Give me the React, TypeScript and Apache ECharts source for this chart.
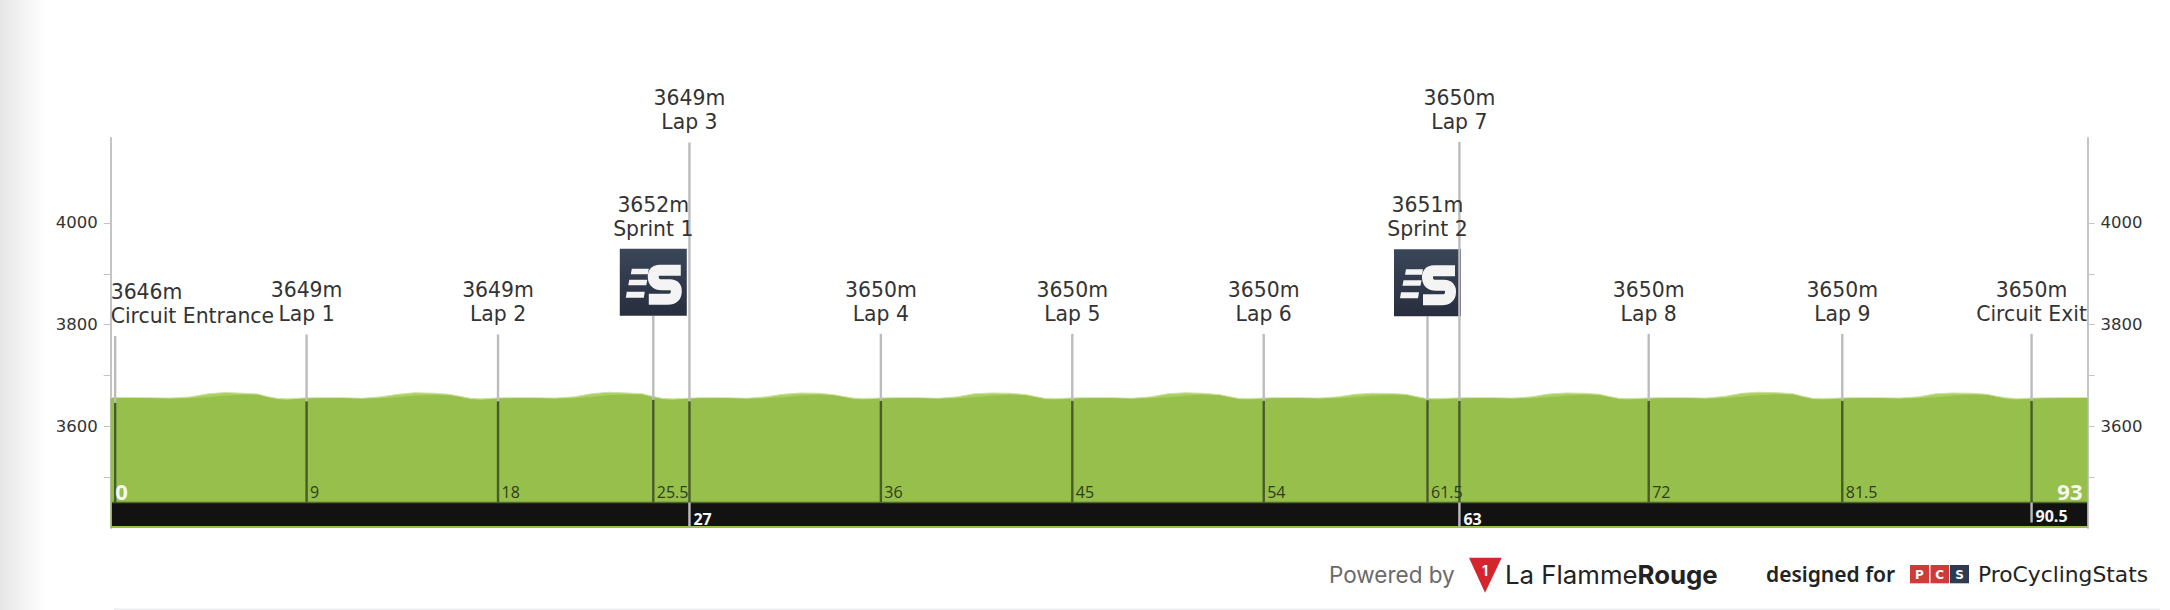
import React, { useEffect, useRef } from "react";
import * as echarts from "echarts";

// ---------- data ----------
const terrainKm = [
  -0.21, 1.5, 2.6, 3.5, 4.4, 5.2, 6.0, 6.7, 7.1, 7.6, 8.1, 8.8,
  9.4, 10.6, 11.6, 12.5, 13.3, 14.1, 15.0, 15.7, 16.2, 16.7, 17.2, 17.9,
  18.4, 19.6, 20.7, 21.6, 22.4, 23.2, 24.1, 24.8, 25.2, 25.7, 26.2, 26.9,
  27.5, 28.7, 29.7, 30.6, 31.4, 32.2, 33.1, 33.8, 34.2, 34.7, 35.2, 35.9,
  36.5, 37.7, 38.7, 39.6, 40.4, 41.2, 42.1, 42.8, 43.2, 43.7, 44.2, 44.9,
  45.5, 46.8, 47.8, 48.7, 49.5, 50.3, 51.1, 51.9, 52.3, 52.8, 53.3, 54.0,
  54.4, 55.6, 56.6, 57.5, 58.3, 59.1, 60.0, 60.7, 61.1, 61.6, 62.1, 62.9,
  63.5, 64.7, 65.7, 66.6, 67.4, 68.2, 69.1, 69.8, 70.2, 70.7, 71.2, 72.0,
  72.5, 73.8, 74.8, 75.7, 76.5, 77.3, 78.2, 78.9, 79.3, 79.8, 80.3, 81.1,
  81.6, 82.9, 83.9, 84.8, 85.6, 86.4, 87.3, 88.0, 88.4, 88.9, 89.4, 90.2,
  91.0, 92.0, 92.73,
];
const terrainUpper = [
  3656.5, 3656, 3655.5, 3657.5, 3664, 3666.5, 3665, 3663.5, 3659, 3655, 3654, 3655.5,
  3656, 3656, 3655, 3658, 3663, 3666, 3665, 3663, 3659, 3655, 3654, 3655.5,
  3656, 3656, 3655.5, 3658, 3664, 3667, 3665.5, 3664, 3659.5, 3655, 3654, 3655,
  3656, 3656, 3655, 3658, 3663, 3665.5, 3665, 3662, 3659, 3655.5, 3654.5, 3655.5,
  3656, 3656, 3655, 3658, 3664, 3665.5, 3665, 3662.5, 3659, 3655, 3654.5, 3655.5,
  3656, 3656, 3655, 3658, 3664, 3666, 3665, 3662.5, 3659, 3655, 3654.5, 3655.5,
  3656, 3656, 3655.5, 3658, 3663, 3665, 3664.5, 3663, 3659, 3655, 3654.5, 3655.5,
  3656, 3656, 3655.5, 3658, 3663.5, 3665.5, 3665, 3663, 3659, 3655, 3654.5, 3655.5,
  3656, 3656, 3655.5, 3659, 3665, 3667, 3666, 3664, 3659.5, 3655, 3654.5, 3655.5,
  3656, 3656, 3655.5, 3658, 3664, 3665.5, 3665, 3663, 3659.5, 3656, 3654.5, 3655.5,
  3656, 3656, 3656,
];
const terrainLower = [
  3655.5, 3655.5, 3654, 3655, 3657, 3660, 3662, 3662, 3657.5, 3653, 3651.5, 3654,
  3655, 3655.5, 3654, 3655, 3657, 3660, 3661.5, 3661, 3657.5, 3653, 3651.5, 3654,
  3655, 3655.5, 3654, 3655, 3657.5, 3661, 3662.5, 3662, 3658, 3653, 3651.5, 3654,
  3655, 3655.5, 3654, 3655, 3657, 3660, 3662, 3660.5, 3657.5, 3653, 3652, 3654,
  3655, 3655.5, 3654, 3655, 3657, 3660, 3662, 3661, 3657.5, 3653, 3652, 3654,
  3655, 3655.5, 3654, 3655, 3657, 3660, 3662, 3661, 3657.5, 3653, 3652, 3654,
  3655, 3655.5, 3654, 3655, 3657, 3660, 3661.5, 3661, 3657.5, 3653, 3652, 3654,
  3655, 3655.5, 3654, 3655, 3657, 3660, 3662, 3661, 3657.5, 3653, 3652, 3654,
  3655, 3655.5, 3654, 3655.5, 3658, 3661, 3663, 3662, 3658, 3653, 3652, 3654,
  3655, 3655.5, 3654, 3655, 3657, 3660, 3662, 3661.5, 3658, 3653.5, 3652, 3654,
  3655, 3655.5, 3655.5,
];

const markerKm = [0, 9, 18, 25.3, 27, 36, 45, 54, 61.7, 63.2, 72.1, 81.2, 90.1];
const markerDistance = ["0", "9", "18", "25.5", "27", "36", "45", "54", "61.5", "63", "72", "81.5", "90.5"];
const markerElevation = [3646, 3649, 3649, 3652, 3649, 3650, 3650, 3650, 3651, 3650, 3650, 3650, 3650];
const markerName = [
  "Circuit Entrance", "Lap 1", "Lap 2", "Sprint 1", "Lap 3", "Lap 4", "Lap 5",
  "Lap 6", "Sprint 2", "Lap 7", "Lap 8", "Lap 9", "Circuit Exit",
];
const markerTier = [
  "low", "low", "low", "sprint", "tall", "low", "low",
  "low", "sprint", "tall", "low", "low", "low",
];
const finishDistance = "93";
const yTicks = [3500, 3600, 3700, 3800, 3900, 4000];
const yLabels = [3600, 3800, 4000];

// ---------- scale and style ----------
const KM_MIN = -0.21;
const KM_MAX = 92.73;
const Y_MIN = 3400;
const Y_MAX = 4167;
const ROAD_LEVEL = 3450;
const FONT = '"DejaVu Sans", sans-serif';
const LABEL_FONT = '"Open Sans", sans-serif';
const STEM: Record<string, number> = { low: 67, sprint: 84, tall: 259 };
const S_PATH =
  "M61 21.5 L40 21.5 Q33 21.5 33.5 28.5 Q34 36 42 36 L50 36 Q57 36 56.5 43 Q56 50.5 48 50.5 L29 50.5";
echarts.graphic.registerShape("sprintS", echarts.graphic.extendPath(S_PATH, {}) as any);

function text(content: string, x: number, y: number, size: number, fill: string, align = "center", weight = "normal", family = LABEL_FONT) {
  return {
    type: "text",
    z2: 10,
    style: { text: content, x, y, fill, align, verticalAlign: "middle", fontSize: size, fontWeight: weight, fontFamily: family },
  };
}

function renderMarker(_: any, api: any) {
  const i = api.value(0);
  const [x, yTerrain] = api.coord([markerKm[i], markerElevation[i]]);
  const [, yRoad] = api.coord([markerKm[i], ROAD_LEVEL]);
  const [, yBarEnd] = api.coord([markerKm[i], 3403]);
  const tier = markerTier[i];
  const top = yTerrain - STEM[tier];
  const children: any[] = [];
  const head = tier === "sprint" ? top - 67 : top;
  children.push({ type: "line", shape: { x1: x, y1: top, x2: x, y2: yTerrain }, style: { stroke: "#bcbcbc", lineWidth: 2.4 } });
  children.push({ type: "line", shape: { x1: x, y1: yTerrain, x2: x, y2: yRoad }, style: { stroke: "#485c2a", lineWidth: 2.4 } });

  if (tier === "sprint") {
    const ix = x - 33.5;
    children.push({
      type: "rect",
      shape: { x: ix, y: head, width: 67, height: 67 },
      style: {
        fill: new echarts.graphic.LinearGradient(0, 0, 0, 1, [
          { offset: 0, color: "#3a4659" },
          { offset: 1, color: "#272e3e" },
        ]),
      },
    });
    children.push({ type: "polygon", shape: { points: [[ix + 12, head + 20], [ix + 29, head + 20], [ix + 28, head + 25.5], [ix + 11, head + 25.5]] }, style: { fill: "#f4f4f4" } });
    children.push({ type: "polygon", shape: { points: [[ix + 9.5, head + 31], [ix + 27.5, head + 31], [ix + 26.5, head + 36.5], [ix + 8.5, head + 36.5]] }, style: { fill: "#f4f4f4" } });
    children.push({ type: "polygon", shape: { points: [[ix + 7, head + 43], [ix + 25, head + 43], [ix + 24, head + 49], [ix + 6, head + 49]] }, style: { fill: "#f4f4f4" } });
    children.push({ type: "sprintS", x: ix, y: head, style: { fill: "none", stroke: "#f4f4f4", lineWidth: 11, lineJoin: "round", lineCap: "butt" } });
  }

  const elevText = `${markerElevation[i]}m`;
  const name = markerName[i];
  const sz = 20.4;
  if (i === 0) {
    children.push(text(elevText, x - 4.5, head - 44, sz, "#333", "left", "normal", FONT));
    children.push(text(name, x - 4.5, head - 20, sz, "#333", "left", "normal", FONT));
  } else {
    children.push(text(elevText, x, head - 44, sz, "#333", "center", "normal", FONT));
    children.push(text(name, x, head - 20, sz, "#333", "center", "normal", FONT));
  }

  // distance labels
  const d = markerDistance[i];
  const onRoad = d === "27" || d === "63" || d === "90.5";
  if (onRoad) {
    const end = d === "90.5" ? yBarEnd - 4 : yBarEnd;
    children.push({ type: "line", shape: { x1: x, y1: yRoad, x2: x, y2: end }, style: { stroke: "#bcbcbc", lineWidth: 2.4 } });
    children.push(text(d, x + 4, yRoad + (d === "90.5" ? 13 : 16), 16, "#f6f6f6", "left", "bold"));
  } else if (i === 0) {
    children.push(text(d, x, yRoad - 12, 22, "#f7faf0", "left", "bold"));
  } else {
    children.push(text(d, x + 3.5, yRoad - 11, 16, "#2e3d1c", "left"));
  }
  return { type: "group", children };
}

function renderRoad(_: any, api: any) {
  const [x0, y0] = api.coord([-0.15, ROAD_LEVEL]);
  const [x1, y1] = api.coord([KM_MAX - 0.02, 3404]);
  const [xEnd, yEnd] = api.coord([KM_MAX, ROAD_LEVEL]);
  return {
    type: "group",
    children: [
      { type: "rect", shape: { x: x0, y: y0, width: x1 - x0, height: y1 - y0 }, style: { fill: "#121212" } },
      { type: "line", shape: { x1: x0, y1: y0, x2: x1, y2: y0 }, style: { stroke: "#4f6a2c", lineWidth: 1.5 } },
      text(finishDistance, xEnd - 5, yEnd - 12, 22, "#f7faf0", "right", "bold"),
    ],
  };
}

const App = () => {
  const ref = useRef<HTMLDivElement>(null);
  useEffect(() => {
    const chart = echarts.init(ref.current!, undefined, { renderer: "svg" });
    const yAxisCommon = {
      type: "value",
      min: Y_MIN,
      max: Y_MAX,
      splitLine: { show: false },
      axisLine: { show: true, onZero: false, lineStyle: { color: "#c4c4c4", width: 2 } },
      axisTick: { show: true, length: 7, lineStyle: { color: "#c4c4c4", width: 1 }, customValues: yTicks },
      axisLabel: {
        color: "#333",
        fontSize: 16.5,
        fontFamily: FONT,
        margin: 13,
        customValues: yLabels,
        formatter: (v: number) => String(v),
      },
    };
    chart.setOption({
      animation: false,
      grid: { left: 110.7, top: 138, width: 1976.8, height: 390, containLabel: false },
      xAxis: { type: "value", min: KM_MIN, max: KM_MAX, show: false },
      yAxis: [
        { ...yAxisCommon, position: "left" },
        { ...yAxisCommon, position: "right" },
      ],
      series: [
        {
          type: "line",
          name: "upper",
          data: terrainKm.map((k, i) => [k, terrainUpper[i]]),
          showSymbol: false,
          z: 2,
          lineStyle: { color: "#cfe3a0", width: 1 },
          areaStyle: { color: "#aacf62", opacity: 1, origin: "start" },
        },
        {
          type: "line",
          name: "lower",
          data: terrainKm.map((k, i) => [k, terrainLower[i]]),
          showSymbol: false,
          z: 3,
          lineStyle: { width: 0 },
          areaStyle: { color: "#96bf4c", opacity: 1, origin: "start" },
        },
        { type: "custom", name: "road", data: [[0]], z: 4, renderItem: renderRoad },
        {
          type: "custom",
          name: "markers",
          data: markerKm.map((_, i) => [i]),
          z: 5,
          encode: { x: -1, y: -1 },
          renderItem: renderMarker,
        },
      ],
      graphic: [
        {
          type: "rect",
          z: -1,
          shape: { x: 0, y: 0, width: 46, height: 610 },
          style: {
            fill: new echarts.graphic.LinearGradient(0, 0, 1, 0, [
              { offset: 0, color: "#e6e6e6" },
              { offset: 1, color: "#ffffff" },
            ]),
          },
        },
        { type: "rect", shape: { x: 114, y: 608.5, width: 2046, height: 1.5 }, style: { fill: "#eceef0" } },
        { type: "text", style: { text: "Powered by", x: 1329, y: 574, fill: "#6a6a6a", fontSize: 22.5, fontFamily: "Inter, sans-serif", verticalAlign: "middle" } },
        { type: "polygon", shape: { points: [[1469, 557.7], [1501.7, 557.7], [1485, 592.7]] }, style: { fill: "#d4242e" } },
        { type: "text", style: { text: "1", x: 1485, y: 570, fill: "#ffffff", fontSize: 14, fontWeight: "bold", fontFamily: "Inter, sans-serif", align: "center", verticalAlign: "middle" } },
        {
          type: "text",
          style: {
            text: "{a|La Flamme}{b|Rouge}",
            x: 1505,
            y: 574,
            verticalAlign: "middle",
            rich: {
              a: { fontSize: 25.8, fontFamily: "Inter, sans-serif", fill: "#222", color: "#222" },
              b: { fontSize: 25.8, fontWeight: "bold", fontFamily: "Inter, sans-serif", fill: "#222", color: "#222" },
            },
          },
        },
        { type: "text", style: { text: "designed for", x: 1766, y: 574, fill: "#222", fontSize: 21, fontWeight: 600, fontFamily: '"Noto Sans", sans-serif', verticalAlign: "middle" } },
        { type: "rect", shape: { x: 1910, y: 565, width: 19, height: 18.3 }, style: { fill: "#d13a3a" } },
        { type: "rect", shape: { x: 1930.5, y: 565, width: 18.5, height: 18.3 }, style: { fill: "#d13a3a" } },
        { type: "rect", shape: { x: 1950, y: 565, width: 19, height: 18.3 }, style: { fill: "#2f3b50" } },
        { type: "text", style: { text: "P", x: 1919.5, y: 574.5, fill: "#fff", fontSize: 12, fontWeight: "bold", fontFamily: FONT, align: "center", verticalAlign: "middle" } },
        { type: "text", style: { text: "C", x: 1939.7, y: 574.5, fill: "#fff", fontSize: 12, fontWeight: "bold", fontFamily: FONT, align: "center", verticalAlign: "middle" } },
        { type: "text", style: { text: "S", x: 1959.5, y: 574.5, fill: "#fff", fontSize: 12, fontWeight: "bold", fontFamily: FONT, align: "center", verticalAlign: "middle" } },
        { type: "text", style: { text: "ProCyclingStats", x: 1978, y: 574, fill: "#222", fontSize: 21.8, fontFamily: FONT, verticalAlign: "middle" } },
      ],
    });
    return () => chart.dispose();
  }, []);
  return (
    <div
      ref={ref}
      style={{ position: "absolute", left: 0, top: 0, width: 2170, height: 610, background: "#fff" }}
    />
  );
};

export default App;
